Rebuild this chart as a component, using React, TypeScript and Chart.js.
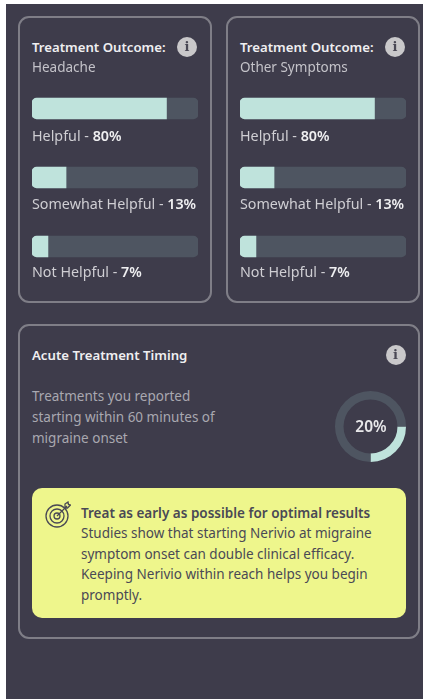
import React, { useEffect, useRef } from "react";
import { Chart, registerables } from "chart.js";

Chart.register(...registerables);

const outcomeCategories = ["Helpful", "Somewhat Helpful", "Not Helpful"];
const outcomeLabelValues = [80, 13, 7];
const headacheBarValues = [81, 20.5, 9.6];
const otherBarValues = [81, 20.5, 9.6];
const trackValues = [100, 100, 100];
const timingArcValues = [25, 75];
const timingLabel = "20%";

const FONT = "'Noto Sans', sans-serif";
const TEAL = "#bfe3dc";
const TRACK = "#4e5561";
const BG = "#3e3c4b";

function OutcomeBars({ left, values }: { left: number; values: number[] }) {
  const ref = useRef<HTMLCanvasElement>(null);
  useEffect(() => {
    const chart = new Chart(ref.current!, {
      type: "bar",
      data: {
        labels: outcomeCategories,
        datasets: [
          { data: values, backgroundColor: TEAL, barThickness: 21, borderRadius: { topLeft: 5, bottomLeft: 5, topRight: 0, bottomRight: 0 }, borderSkipped: false, order: 1 },
          { data: trackValues, backgroundColor: TRACK, barThickness: 21, borderRadius: 5, borderSkipped: false, order: 2 },
        ],
      },
      options: {
        indexAxis: "y",
        animation: false,
        responsive: false,
        layout: { padding: 0 },
        plugins: { legend: { display: false }, tooltip: { enabled: false } },
        scales: {
          x: { display: false, min: 0, max: 100, stacked: false },
          y: { display: false, stacked: true },
        },
      },
    });
    return () => chart.destroy();
  }, [values]);
  return <canvas ref={ref} width={166} height={207} style={{ position: "absolute", left, top: 73.5, width: 166, height: 207 }} />;
}

function TimingRing() {
  const ref = useRef<HTMLCanvasElement>(null);
  useEffect(() => {
    const chart = new Chart(ref.current!, {
      type: "doughnut",
      data: {
        labels: ["Within 60 minutes", "Later"],
        datasets: [{ data: timingArcValues, backgroundColor: [TEAL, TRACK], borderWidth: 0 }],
      },
      options: {
        animation: false,
        responsive: false,
        rotation: 90,
        cutout: "76%",
        layout: { padding: 0 },
        plugins: { legend: { display: false }, tooltip: { enabled: false } },
      },
    });
    return () => chart.destroy();
  }, []);
  return <canvas ref={ref} width={71} height={71} style={{ position: "absolute", left: 335, top: 390.5, width: 71, height: 71 }} />;
}

function Info({ left, top }: { left: number; top: number }) {
  return (
    <div style={{ position: "absolute", left, top, width: 20, height: 20, borderRadius: 10, background: "#c9c8ca", color: "#4a4855", fontFamily: "'DejaVu Serif', serif", fontWeight: 700, fontSize: 13, lineHeight: "20px", textAlign: "center" }}>i</div>
  );
}

function T({ x, y, children, size = 14, color = "#cfced3", weight = 400, ls = 0 }: any) {
  return (
    <div style={{ position: "absolute", left: x, top: y, fontFamily: FONT, fontSize: size, color, fontWeight: weight, letterSpacing: ls, lineHeight: "20px", whiteSpace: "nowrap" }}>{children}</div>
  );
}

function Card({ x, y, w, h }: any) {
  return <div style={{ position: "absolute", left: x, top: y, width: w, height: h, boxSizing: "border-box", border: "2px solid #7f7e87", borderRadius: 11 }} />;
}

function OutcomeText({ x, sub }: { x: number; sub: string }) {
  const tops = [125.5, 194, 262];
  return (
    <>
      <T x={x} y={37} size={13.2} color="#efeff1" weight={600}>Treatment Outcome:</T>
      <T x={x} y={57} size={13.5} color="#c4c3c9">{sub}</T>
      {outcomeCategories.map((c, i) => (
        <T key={c} x={x} y={tops[i]} size={14.3}>
          {c} - <span style={{ fontWeight: 600, color: "#efeff1" }}>{outcomeLabelValues[i]}%</span>
        </T>
      ))}
    </>
  );
}

export default function App() {
  const dark = "#4a4955";
  return (
    <div style={{ position: "absolute", left: 0, top: 0, width: 423, height: 699, overflow: "hidden", background: "#fff" }}>
      <div style={{ position: "absolute", left: 6, top: 4, width: 417, height: 695, background: BG }} />
      <Card x={18} y={16} w={194} h={287} />
      <Card x={226} y={16} w={194} h={287} />
      <Card x={18} y={324} w={402} h={315} />
      <OutcomeBars left={32} values={headacheBarValues} />
      <OutcomeBars left={240} values={otherBarValues} />
      <OutcomeText x={32} sub="Headache" />
      <OutcomeText x={240} sub="Other Symptoms" />
      <Info left={177} top={37} />
      <Info left={385} top={37} />
      <Info left={385.5} top={345} />
      <T x={32} y={345} size={13.2} color="#efeff1" weight={600}>Acute Treatment Timing</T>
      <T x={32} y={386} size={13.5} color="#a9a8b0">Treatments you reported</T>
      <T x={32} y={407} size={13.5} color="#a9a8b0">starting within 60 minutes of</T>
      <T x={32} y={428} size={13.5} color="#a9a8b0">migraine onset</T>
      <TimingRing />
      <div style={{ position: "absolute", left: 335.5, top: 416, width: 71, textAlign: "center", fontFamily: FONT, fontWeight: 600, fontSize: 15.5, lineHeight: "20px", color: "#e8e8ea" }}>{timingLabel}</div>
      <div style={{ position: "absolute", left: 32, top: 488, width: 374, height: 130, borderRadius: 10, background: "#eef68c" }} />
      <svg width={26} height={28} viewBox="0 0 26 28" style={{ position: "absolute", left: 45, top: 501 }} fill="none" stroke={dark} strokeWidth={1.3}>
        <circle cx={12} cy={15} r={11} />
        <circle cx={12} cy={15} r={7} />
        <circle cx={12} cy={15} r={3} />
        <path d="M12 15 L22 5 M20 3 L23 1 L23.5 3.5 L25.5 4 L22.5 7 L20 6.5 Z" />
      </svg>
      <T x={81} y={503} size={13.5} color={dark} weight={600}>Treat as early as possible for optimal results</T>
      <T x={81} y={523} size={13.5} color={dark}>Studies show that starting Nerivio at migraine</T>
      <T x={81} y={544} size={13.5} color={dark}>symptom onset can double clinical efficacy.</T>
      <T x={81} y={564} size={13.5} color={dark}>Keeping Nerivio within reach helps you begin</T>
      <T x={81} y={585} size={13.5} color={dark}>promptly.</T>
    </div>
  );
}
